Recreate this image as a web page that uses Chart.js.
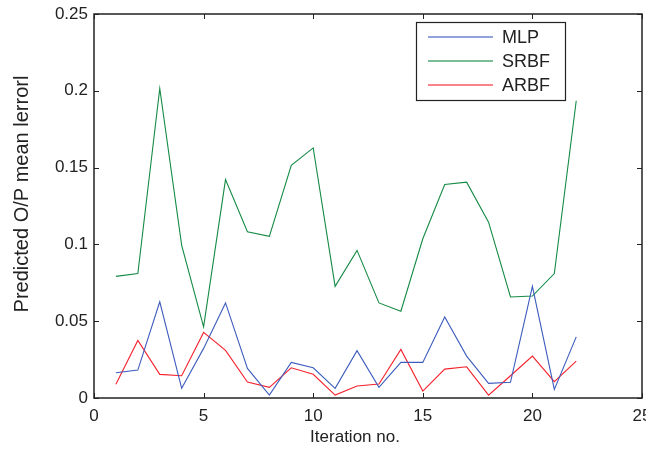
<!DOCTYPE html>
<html>
<head>
<meta charset="utf-8">
<script src="https://cdn.jsdelivr.net/npm/chart.js@4/dist/chart.umd.min.js"></script>
<style>
  html, body { margin: 0; padding: 0; background: #fff; }
  #stage { position: relative; width: 646px; height: 454px; }
</style>
</head>
<body>
<div id="stage"><canvas id="chart"></canvas></div>
<script>
// iteration numbers and per-network prediction error
const iterations = [1, 2, 3, 4, 5, 6, 7, 8, 9, 10, 11, 12, 13, 14, 15, 16, 17, 18, 19, 20, 21, 22];
const mlp = [0.0164, 0.0182, 0.0626, 0.0063, 0.0323, 0.0619, 0.0193, 0.0019, 0.0232, 0.0197, 0.0063,
  0.0308, 0.0069, 0.0232, 0.0232, 0.0528, 0.0273, 0.0095, 0.0102, 0.0727, 0.0056, 0.0398];
const srbf = [0.0792, 0.081, 0.2015, 0.0994, 0.0463, 0.1422, 0.1082, 0.1052, 0.1515, 0.1628, 0.0727,
  0.0961, 0.0619, 0.0565, 0.1037, 0.139, 0.1405, 0.1145, 0.0658, 0.0664, 0.081, 0.1935];
const arbf = [0.0089, 0.0375, 0.0154, 0.0145, 0.0427, 0.031, 0.0104, 0.0069, 0.0197, 0.0154, 0.0019,
  0.0078, 0.0091, 0.0316, 0.0045, 0.0188, 0.0203, 0.0019, 0.0145, 0.0273, 0.0106, 0.024];
const xTicks = [0, 5, 10, 15, 20, 25];
const yTicks = [0, 0.05, 0.1, 0.15, 0.2, 0.25];

const FONT = "'Liberation Sans', Arial, Helvetica, sans-serif";
const colors = { mlp: '#3d5cbd', srbf: '#158a45', arbf: '#f5222d', frame: '#222' };

const toPoints = (values) => values.map((v, i) => ({ x: iterations[i], y: v }));

// boxed axes with inward ticks, legend and axis titles
const matlabFrame = {
  id: 'matlabFrame',
  afterDatasetsDraw(chart) {
    const { ctx, chartArea: a, scales: { x, y } } = chart;
    ctx.save();
    ctx.strokeStyle = colors.frame;
    ctx.lineWidth = 1.5;
    ctx.strokeRect(a.left, a.top, a.right - a.left, a.bottom - a.top);
    ctx.lineWidth = 1;
    ctx.beginPath();
    xTicks.forEach((t) => {
      const px = Math.round(x.getPixelForValue(t)) + 0.5;
      ctx.moveTo(px, a.bottom); ctx.lineTo(px, a.bottom - 5);
      ctx.moveTo(px, a.top); ctx.lineTo(px, a.top + 5);
    });
    yTicks.forEach((t) => {
      const py = Math.round(y.getPixelForValue(t)) + 0.5;
      ctx.moveTo(a.left, py); ctx.lineTo(a.left + 5, py);
      ctx.moveTo(a.right, py); ctx.lineTo(a.right - 5, py);
    });
    ctx.stroke();

    // legend
    ctx.fillStyle = '#fff';
    ctx.fillRect(416, 22, 149, 78);
    ctx.strokeStyle = colors.frame;
    ctx.lineWidth = 1.2;
    ctx.strokeRect(416.5, 22.5, 149, 78);
    ctx.font = `18px ${FONT}`;
    ctx.textBaseline = 'middle';
    ctx.textAlign = 'left';
    chart.data.datasets.forEach((ds, i) => {
      const ly = 37 + i * 24;
      ctx.strokeStyle = ds.borderColor;
      ctx.globalAlpha = 0.75;
      ctx.lineWidth = 1.5;
      ctx.beginPath();
      ctx.moveTo(428, ly); ctx.lineTo(493, ly);
      ctx.stroke();
      ctx.globalAlpha = 1;
      ctx.fillStyle = '#222';
      ctx.fillText(ds.label, 502, ly + 1);
    });

    // axis titles
    ctx.fillStyle = '#222';
    ctx.textAlign = 'center';
    ctx.font = `17px ${FONT}`;
    ctx.fillText('Iteration no.', 355, 437);
    ctx.translate(22, 194);
    ctx.rotate(-Math.PI / 2);
    ctx.font = `20px ${FONT}`;
    ctx.fillText('Predicted O/P mean lerrorl', 0, 0);
    ctx.restore();
  },
};

new Chart(document.getElementById('chart'), {
  type: 'line',
  data: {
    datasets: [
      { label: 'MLP', data: toPoints(mlp), borderColor: colors.mlp },
      { label: 'SRBF', data: toPoints(srbf), borderColor: colors.srbf },
      { label: 'ARBF', data: toPoints(arbf), borderColor: colors.arbf },
    ].map((ds) => ({ ...ds, borderWidth: 1.1, pointRadius: 0, tension: 0, fill: false })),
  },
  options: {
    responsive: true,
    maintainAspectRatio: false,
    animation: false,
    layout: { padding: { top: 14, right: 4, left: 0, bottom: 0 } },
    plugins: { legend: { display: false }, tooltip: { enabled: false } },
    scales: {
      x: {
        type: 'linear', min: 0, max: 25,
        afterBuildTicks: (s) => { s.ticks = xTicks.map((v) => ({ value: v })); },
        afterFit: (s) => { s.height = 56; s.paddingLeft = 0; s.paddingRight = 0; },
        grid: { display: false, drawTicks: false },
        border: { display: false },
        ticks: { padding: 8, color: '#222', font: { family: FONT, size: 17 }, maxRotation: 0, autoSkip: false },
      },
      y: {
        type: 'linear', min: 0, max: 0.25,
        afterBuildTicks: (s) => { s.ticks = yTicks.map((v) => ({ value: v })); },
        afterFit: (s) => { s.width = 94; s.paddingTop = 0; s.paddingBottom = 0; },
        grid: { display: false, drawTicks: false },
        border: { display: false },
        ticks: { padding: 6, color: '#222', font: { family: FONT, size: 17 }, callback: (v) => String(+v.toFixed(2)) },
      },
    },
  },
  plugins: [matlabFrame],
});
</script>
</body>
</html>
